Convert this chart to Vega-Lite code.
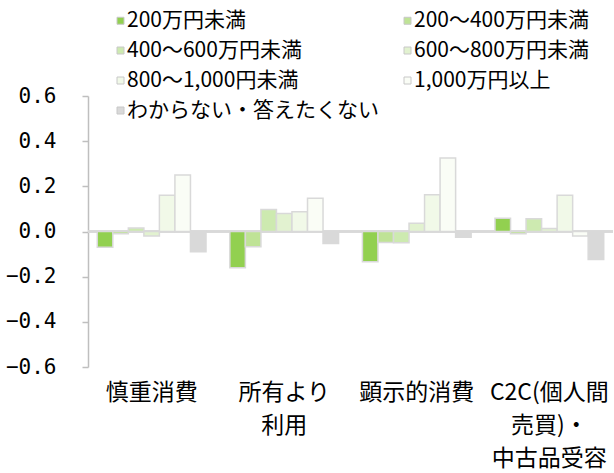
{
  "$schema": "https://vega.github.io/schema/vega-lite/v6.json",
  "width": 525,
  "height": 271,
  "autosize": "none",
  "padding": {"left": 88, "top": 96, "right": 1, "bottom": 106},
  "background": "white",
  "data": {
    "values": [
      {"category": "慎重消費", "series": "200万円未満", "value": -0.07},
      {"category": "慎重消費", "series": "200～400万円未満", "value": -0.01},
      {"category": "慎重消費", "series": "400～600万円未満", "value": 0.015},
      {"category": "慎重消費", "series": "600～800万円未満", "value": -0.02},
      {"category": "慎重消費", "series": "800～1,000円未満", "value": 0.16},
      {"category": "慎重消費", "series": "1,000万円以上", "value": 0.25},
      {"category": "慎重消費", "series": "わからない・答えたくない", "value": -0.09},

      {"category": "所有より利用", "series": "200万円未満", "value": -0.16},
      {"category": "所有より利用", "series": "200～400万円未満", "value": -0.068},
      {"category": "所有より利用", "series": "400～600万円未満", "value": 0.097},
      {"category": "所有より利用", "series": "600～800万円未満", "value": 0.08},
      {"category": "所有より利用", "series": "800～1,000円未満", "value": 0.088},
      {"category": "所有より利用", "series": "1,000万円以上", "value": 0.147},
      {"category": "所有より利用", "series": "わからない・答えたくない", "value": -0.053},

      {"category": "顕示的消費", "series": "200万円未満", "value": -0.134},
      {"category": "顕示的消費", "series": "200～400万円未満", "value": -0.049},
      {"category": "顕示的消費", "series": "400～600万円未満", "value": -0.05},
      {"category": "顕示的消費", "series": "600～800万円未満", "value": 0.037},
      {"category": "顕示的消費", "series": "800～1,000円未満", "value": 0.163},
      {"category": "顕示的消費", "series": "1,000万円以上", "value": 0.326},
      {"category": "顕示的消費", "series": "わからない・答えたくない", "value": -0.025},

      {"category": "C2C(個人間売買)・中古品受容", "series": "200万円未満", "value": 0.059},
      {"category": "C2C(個人間売買)・中古品受容", "series": "200～400万円未満", "value": -0.01},
      {"category": "C2C(個人間売買)・中古品受容", "series": "400～600万円未満", "value": 0.056},
      {"category": "C2C(個人間売買)・中古品受容", "series": "600～800万円未満", "value": 0.013},
      {"category": "C2C(個人間売買)・中古品受容", "series": "800～1,000円未満", "value": 0.16},
      {"category": "C2C(個人間売買)・中古品受容", "series": "1,000万円以上", "value": -0.02},
      {"category": "C2C(個人間売買)・中古品受容", "series": "わからない・答えたくない", "value": -0.124}
    ]
  },
  "layer": [
    {
      "mark": {"type": "rule", "color": "#D9D9D9", "strokeWidth": 2},
      "encoding": {
        "y": {"datum": 0, "type": "quantitative", "scale": {"domain": [-0.6, 0.6], "nice": false}}
      }
    },
    {
      "mark": {"type": "bar", "stroke": "#D9D9D9", "strokeWidth": 1.5},
      "encoding": {
        "x": {
          "field": "category",
          "type": "nominal",
          "sort": ["慎重消費", "所有より利用", "顕示的消費", "C2C(個人間売買)・中古品受容"],
          "scale": {"paddingInner": 0.18, "paddingOuter": 0.07},
          "axis": {
            "title": null,
            "orient": "bottom",
            "domain": false,
            "ticks": false,
            "labelAngle": 0,
            "labelPadding": 14,
            "labelFont": "Noto Sans CJK JP",
            "labelFontSize": 23,
            "labelLineHeight": 33,
            "labelColor": "#000000",
            "labelLimit": 0,
            "labelExpr": "datum.label == '所有より利用' ? ['所有より', '利用'] : datum.label == 'C2C(個人間売買)・中古品受容' ? ['C2C(個人間', '売買)・', '中古品受容'] : datum.label"
          }
        },
        "xOffset": {
          "field": "series",
          "type": "nominal",
          "sort": ["200万円未満", "200～400万円未満", "400～600万円未満", "600～800万円未満", "800～1,000円未満", "1,000万円以上", "わからない・答えたくない"],
          "scale": {"paddingInner": 0, "paddingOuter": 0}
        },
        "y": {
          "field": "value",
          "type": "quantitative",
          "scale": {"domain": [-0.6, 0.6], "nice": false},
          "axis": {
            "title": null,
            "values": [-0.6, -0.4, -0.2, 0, 0.2, 0.4, 0.6],
            "format": ".1f",
            "grid": false,
            "domainColor": "#BFBFBF",
            "domainWidth": 1.5,
            "tickColor": "#BFBFBF",
            "tickWidth": 1.5,
            "tickSize": 6,
            "labelPadding": 26,
            "labelFont": "DejaVu Sans Mono",
            "labelFontSize": 21,
            "labelColor": "#000000"
          }
        },
        "color": {
          "field": "series",
          "type": "nominal",
          "sort": ["200万円未満", "200～400万円未満", "400～600万円未満", "600～800万円未満", "800～1,000円未満", "1,000万円以上", "わからない・答えたくない"],
          "scale": {
            "domain": ["200万円未満", "200～400万円未満", "400～600万円未満", "600～800万円未満", "800～1,000円未満", "1,000万円以上", "わからない・答えたくない"],
            "range": ["#92D050", "#BFE396", "#CDEAB0", "#E2F2D0", "#F1F9E8", "#FAFDF6", "#D9D9D9"]
          },
          "legend": {
            "title": null,
            "orient": "none",
            "legendX": 22,
            "legendY": -86,
            "columns": 2,
            "direction": "horizontal",
            "columnPadding": 18,
            "rowPadding": 8,
            "padding": 0,
            "symbolType": "square",
            "symbolSize": 49,
            "symbolStrokeColor": "#C8C8C8",
            "symbolStrokeWidth": 1,
            "labelOffset": -4,
            "labelFont": "Noto Sans CJK JP",
            "labelFontSize": 21,
            "labelColor": "#000000",
            "labelLimit": 0
          }
        }
      }
    }
  ],
  "config": {
    "view": {"stroke": null}
  }
}
